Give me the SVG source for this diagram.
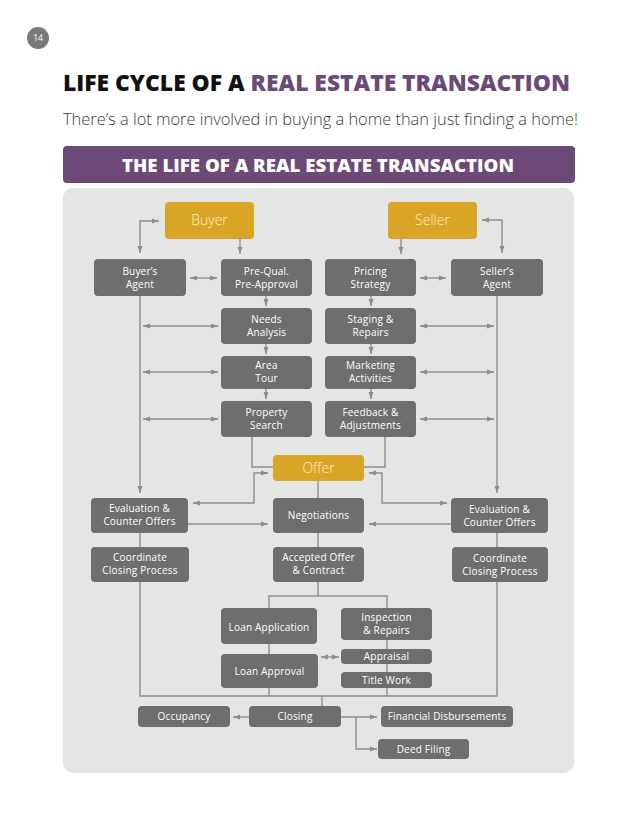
<svg xmlns="http://www.w3.org/2000/svg" width="638" height="826" viewBox="0 0 638 826">
<defs>
<style>
.box{fill:#6e6e6e}
.gold{fill:#d9a526}
.t{font-family:"Open Sans","Noto Sans",sans-serif;font-size:10px;fill:#ffffff;text-anchor:middle;letter-spacing:0.2px}
.g{font-family:"Open Sans","Noto Sans",sans-serif;font-size:14px;font-weight:300;fill:#fcefc6;text-anchor:middle}
.c{fill:none;stroke:#8e8e8e;stroke-width:1.4}
.a{marker-end:url(#ah)}
.b{marker-start:url(#ah);marker-end:url(#ah)}
</style>
<marker id="ah" viewBox="0 0 7 6" refX="7" refY="3" markerWidth="7" markerHeight="6" markerUnits="userSpaceOnUse" orient="auto-start-reverse">
<path d="M0,0.5 L7,3 L0,5.5 z" fill="#8e8e8e"/>
</marker>
</defs>
<rect width="638" height="826" fill="#ffffff"/>
<g id="page-number">
<circle cx="38" cy="38" r="11" fill="#7a7a7a"/>
<text x="38" y="41" font-family="Open Sans, sans-serif" font-size="8.5" fill="#ffffff" text-anchor="middle">14</text>
</g>
<g id="header">
<text x="63" y="91" font-family="Open Sans, Noto Sans, sans-serif" font-size="22" font-weight="800" textLength="507" lengthAdjust="spacingAndGlyphs"><tspan fill="#111111">LIFE CYCLE OF A </tspan><tspan fill="#6b4a78">REAL ESTATE TRANSACTION</tspan></text>
<text x="63" y="125" font-family="Open Sans, Noto Sans, sans-serif" font-size="16" font-weight="300" fill="#3a3a3a" textLength="515" lengthAdjust="spacingAndGlyphs">There’s a lot more involved in buying a home than just finding a home!</text>
<rect x="63" y="146" width="512" height="37" rx="4" fill="#6d4978"/>
<text x="318" y="172" font-family="Open Sans, Noto Sans, sans-serif" font-size="18" font-weight="800" fill="#ffffff" text-anchor="middle" textLength="392" lengthAdjust="spacingAndGlyphs">THE LIFE OF A REAL ESTATE TRANSACTION</text>
</g>
<rect id="panel" x="63" y="188" width="511" height="585" rx="10" fill="#e4e5e5"/>
<g id="connectors">
<path class="c b" d="M159,221 H140 V253"/>
<path class="c a" d="M240,239 V254"/>
<path class="c b" d="M190,278 H217"/>
<path class="c a" d="M266,296 V306"/>
<path class="c a" d="M266,344 V354"/>
<path class="c a" d="M266,389 V399"/>
<path class="c b" d="M143,326 H218"/>
<path class="c b" d="M143,372 H218"/>
<path class="c b" d="M143,419 H218"/>
<path class="c a" d="M140,296 V493"/>
<path class="c a" d="M401,239 V254"/>
<path class="c b" d="M482,220 H502 V253"/>
<path class="c b" d="M420,278 H446"/>
<path class="c a" d="M371,296 V306"/>
<path class="c a" d="M371,344 V354"/>
<path class="c a" d="M371,389 V399"/>
<path class="c b" d="M420,326 H494"/>
<path class="c b" d="M420,372 H494"/>
<path class="c b" d="M420,419 H494"/>
<path class="c a" d="M497,296 V493"/>
<path class="c" d="M252,437 V467 H273"/>
<path class="c" d="M385,437 V467 H364"/>
<path class="c b" d="M268,473 H254 V503 H193"/>
<path class="c b" d="M369,473 H382 V503 H447"/>
<path class="c a" d="M188,524 H268"/>
<path class="c a" d="M451,524 H369"/>
<path class="c" d="M318,481 V498"/>
<path class="c" d="M318,533 V547"/>
<path class="c" d="M140,533 V547"/>
<path class="c" d="M497,533 V547"/>
<path class="c" d="M318,582 V596"/>
<path class="c" d="M269,608 V596 H387 V608"/>
<path class="c" d="M269,644 V654"/>
<path class="c b" d="M321,657 H339"/>
<path class="c" d="M387,640 V696"/>
<path class="c" d="M269,688 V696"/>
<path class="c" d="M140,582 V696 H497 V582"/>
<path class="c" d="M322,696 V706"/>
<path class="c a" d="M249,717 H233"/>
<path class="c a" d="M341,717 H377"/>
<path class="c a" d="M356,717 V749 H377"/>
</g>
<g id="buyer"><rect class="gold" x="165" y="202" width="89" height="37" rx="4"/><text class="g" x="209.5" y="225">Buyer</text></g>
<g id="seller"><rect class="gold" x="388" y="202" width="89" height="37" rx="4"/><text class="g" x="432.5" y="225">Seller</text></g>
<g id="buyers-agent"><rect class="box" x="94" y="259" width="92" height="37" rx="4"/><text class="t" x="140" y="275">Buyer’s</text><text class="t" x="140" y="288">Agent</text></g>
<g id="pre-qual"><rect class="box" x="221" y="259" width="91" height="37" rx="4"/><text class="t" x="266.5" y="275">Pre-Qual.</text><text class="t" x="266.5" y="288">Pre-Approval</text></g>
<g id="needs"><rect class="box" x="221" y="308" width="91" height="36" rx="4"/><text class="t" x="266.5" y="323">Needs</text><text class="t" x="266.5" y="336">Analysis</text></g>
<g id="area"><rect class="box" x="221" y="356" width="91" height="33" rx="4"/><text class="t" x="266.5" y="369">Area</text><text class="t" x="266.5" y="382">Tour</text></g>
<g id="property"><rect class="box" x="221" y="401" width="91" height="36" rx="4"/><text class="t" x="266.5" y="416">Property</text><text class="t" x="266.5" y="429">Search</text></g>
<g id="pricing"><rect class="box" x="325" y="259" width="91" height="37" rx="4"/><text class="t" x="370.5" y="275">Pricing</text><text class="t" x="370.5" y="288">Strategy</text></g>
<g id="sellers-agent"><rect class="box" x="451" y="259" width="92" height="37" rx="4"/><text class="t" x="497" y="275">Seller’s</text><text class="t" x="497" y="288">Agent</text></g>
<g id="staging"><rect class="box" x="325" y="308" width="91" height="36" rx="4"/><text class="t" x="370.5" y="323">Staging &amp;</text><text class="t" x="370.5" y="336">Repairs</text></g>
<g id="marketing"><rect class="box" x="325" y="356" width="91" height="33" rx="4"/><text class="t" x="370.5" y="369">Marketing</text><text class="t" x="370.5" y="382">Activities</text></g>
<g id="feedback"><rect class="box" x="325" y="401" width="91" height="36" rx="4"/><text class="t" x="370.5" y="416">Feedback &amp;</text><text class="t" x="370.5" y="429">Adjustments</text></g>
<g id="offer"><rect class="gold" x="273" y="455" width="91" height="26" rx="4"/><text class="g" x="318.5" y="473">Offer</text></g>
<g id="eval-left"><rect class="box" x="91" y="498" width="97" height="35" rx="4"/><text class="t" x="139.5" y="512">Evaluation &amp;</text><text class="t" x="139.5" y="525">Counter Offers</text></g>
<g id="negotiations"><rect class="box" x="273" y="498" width="91" height="35" rx="4"/><text class="t" x="318.5" y="519">Negotiations</text></g>
<g id="eval-right"><rect class="box" x="451" y="498" width="97" height="35" rx="4"/><text class="t" x="499.5" y="513">Evaluation &amp;</text><text class="t" x="499.5" y="526">Counter Offers</text></g>
<g id="coord-left"><rect class="box" x="91" y="547" width="98" height="35" rx="4"/><text class="t" x="140" y="561">Coordinate</text><text class="t" x="140" y="574">Closing Process</text></g>
<g id="accepted"><rect class="box" x="273" y="547" width="91" height="35" rx="4"/><text class="t" x="318.5" y="561">Accepted Offer</text><text class="t" x="318.5" y="574">&amp; Contract</text></g>
<g id="coord-right"><rect class="box" x="452" y="547" width="96" height="35" rx="4"/><text class="t" x="500" y="562">Coordinate</text><text class="t" x="500" y="575">Closing Process</text></g>
<g id="loan-app"><rect class="box" x="221" y="608" width="96" height="36" rx="4"/><text class="t" x="269" y="631">Loan Application</text></g>
<g id="inspection"><rect class="box" x="341" y="608" width="91" height="32" rx="4"/><text class="t" x="386.5" y="621">Inspection</text><text class="t" x="386.5" y="634">&amp; Repairs</text></g>
<g id="loan-approval"><rect class="box" x="221" y="654" width="97" height="34" rx="4"/><text class="t" x="269.5" y="675">Loan Approval</text></g>
<g id="appraisal"><rect class="box" x="341" y="649" width="91" height="15" rx="4"/><text class="t" x="386.5" y="660">Appraisal</text></g>
<g id="title-work"><rect class="box" x="341" y="672" width="91" height="16" rx="4"/><text class="t" x="386.5" y="684">Title Work</text></g>
<g id="closing"><rect class="box" x="249" y="706" width="92" height="21" rx="4"/><text class="t" x="295" y="720">Closing</text></g>
<g id="occupancy"><rect class="box" x="138" y="706" width="92" height="21" rx="4"/><text class="t" x="184" y="720">Occupancy</text></g>
<g id="financial"><rect class="box" x="381" y="706" width="132" height="21" rx="4"/><text class="t" x="447" y="720">Financial Disbursements</text></g>
<g id="deed"><rect class="box" x="378" y="739" width="91" height="20" rx="4"/><text class="t" x="423.5" y="753">Deed Filing</text></g>
</svg>
